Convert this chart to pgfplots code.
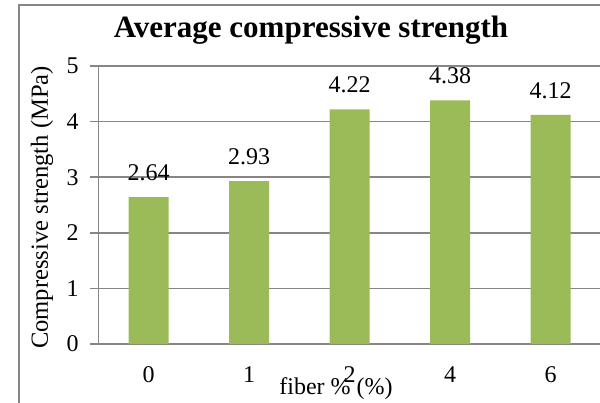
\documentclass[border=0pt]{standalone}
\usepackage{fontspec}
\setmainfont{Liberation Serif}
\usepackage{pgfplots}
\pgfplotsset{compat=1.18}
\definecolor{bargreen}{HTML}{9BBB59}
\definecolor{gridgray}{HTML}{868686}
\begin{document}
\begin{tikzpicture}
\useasboundingbox (-49.25pt,-29pt) rectangle (250.75pt,172pt);
\draw[gridgray, line width=0.75pt] (-39.75pt,-60pt) rectangle (270pt,169.5pt);
\begin{axis}[
  at={(0pt,0pt)}, anchor=south west,
  scale only axis,
  width=251.25pt, height=139pt,
  xmin=-0.5, xmax=4.5, ymin=0, ymax=5,
  ytick={0,1,2,3,4,5},
  xtick={0,1,2,3,4},
  xticklabels={0,1,2,4,6},
  axis x line*=bottom, axis y line*=left,
  axis line style={gridgray, line width=0.75pt, -},
  ymajorgrids,
  grid style={gridgray, line width=0.75pt},
  y tick style={gridgray, line width=0.75pt},
  x tick style={draw=none},
  tick align=outside,
  major tick length=4.25pt,
  /pgf/number format/assume math mode=true,
  tick label style={font=\fontsize{12}{14}\selectfont, text=black},
  xticklabel style={anchor=base, yshift=-15pt, inner sep=0pt},
  yticklabel style={anchor=east, inner sep=0pt, xshift=-5.5pt},
  title={Average compressive strength},
  title style={font=\fontsize{15.5}{18}\selectfont\bfseries, anchor=base, at={(axis description cs:0.4229,1.0576)}, inner sep=0pt},
  ylabel={Compressive strength (MPa)},
  ylabel style={font=\fontsize{12.3}{14}\selectfont, rotate=0, anchor=center, at={(axis description cs:-0.1124,0.491)}, inner sep=0pt},
  xlabel={fiber \% (\%)},
  xlabel style={font=\fontsize{12}{14}\selectfont, anchor=base, at={(axis description cs:0.4726,-0.1799)}, inner sep=0pt},
  ybar, bar width=20pt,
  point meta=explicit symbolic,
  nodes near coords,
  nodes near coords style={font=\fontsize{12}{14}\selectfont, anchor=base, yshift=8.25pt, inner sep=0pt, text=black},
  clip=false,
]
\addplot[fill=bargreen, draw=none] coordinates {(0,2.64) [2.64] (1,2.93) [2.93] (2,4.22) [4.22] (3,4.38) [4.38] (4,4.12) [4.12]};
\end{axis}
\end{tikzpicture}
\end{document}
